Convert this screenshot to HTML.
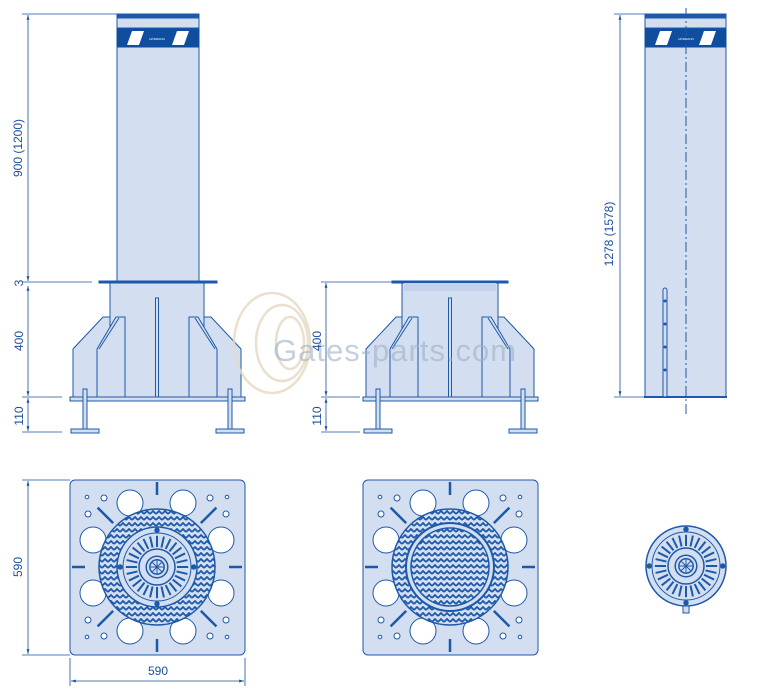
<!DOCTYPE html>
<html><head><meta charset="utf-8"><style>
html,body{margin:0;padding:0;background:#fff;width:765px;height:692px;overflow:hidden}
svg{display:block}
text{font-family:"Liberation Sans",sans-serif;fill:#1d4f9c}
</style></head><body>
<svg id="s" width="765" height="692" viewBox="0 0 765 692" xmlns="http://www.w3.org/2000/svg">
<defs>
<marker id="a" viewBox="0 0 10 10" refX="10" refY="5" markerWidth="6" markerHeight="6" orient="auto-start-reverse"><path d="M0,2 L10,5 L0,8 z" fill="#1d4f9c"/></marker>
<pattern id="zz" width="6" height="6" patternUnits="userSpaceOnUse"><rect width="6" height="6" fill="#d3dff0"/><path d="M0,4 L3,1 L6,4" stroke="#1d59aa" stroke-width="1.8" fill="none"/></pattern>
</defs>
<g id="draw" fill="#d3dff0" stroke="#1d59aa" stroke-width="1"></g>
<g fill="none" stroke="#e6d9c2" stroke-width="2.5" opacity="0.8"><ellipse cx="272" cy="343" rx="38" ry="50"/><ellipse cx="282" cy="343" rx="26" ry="38"/><ellipse cx="290" cy="343" rx="14" ry="26"/></g>
<text x="273" y="361" font-size="31" style="fill:#9fb0c6" opacity="0.6" letter-spacing="1">Gates-parts.com</text>
<g fill="none" stroke="#1d4f9c" stroke-width="0.8">
<line x1="22" y1="14" x2="117" y2="14"/><line x1="22" y1="282" x2="92" y2="282"/><line x1="22" y1="397" x2="62" y2="397"/><line x1="22" y1="432" x2="62" y2="432"/>
<line x1="28" y1="15" x2="28" y2="281" marker-start="url(#a)" marker-end="url(#a)"/>
<line x1="28" y1="286" x2="28" y2="396" marker-start="url(#a)" marker-end="url(#a)"/>
<line x1="28" y1="398" x2="28" y2="431" marker-start="url(#a)" marker-end="url(#a)"/>
<line x1="321" y1="282" x2="392" y2="282"/><line x1="321" y1="397" x2="360" y2="397"/><line x1="321" y1="432" x2="360" y2="432"/>
<line x1="326" y1="283" x2="326" y2="396" marker-start="url(#a)" marker-end="url(#a)"/>
<line x1="326" y1="398" x2="326" y2="431" marker-start="url(#a)" marker-end="url(#a)"/>
<line x1="614" y1="14" x2="645" y2="14"/><line x1="614" y1="397" x2="645" y2="397"/>
<line x1="620" y1="15" x2="620" y2="396" marker-start="url(#a)" marker-end="url(#a)"/>
<line x1="22" y1="480" x2="70" y2="480"/><line x1="22" y1="655" x2="70" y2="655"/>
<line x1="28" y1="481" x2="28" y2="654" marker-start="url(#a)" marker-end="url(#a)"/>
<line x1="70" y1="658" x2="70" y2="686"/><line x1="245" y1="658" x2="245" y2="686"/>
<line x1="71" y1="681" x2="244" y2="681" marker-start="url(#a)" marker-end="url(#a)"/>
</g>
<g font-size="12">
<text transform="translate(22,148) rotate(-90)" text-anchor="middle">900 (1200)</text>
<text transform="translate(23,283) rotate(-90)" text-anchor="middle">3</text>
<text transform="translate(23,341) rotate(-90)" text-anchor="middle">400</text>
<text transform="translate(23,416) rotate(-90)" text-anchor="middle">110</text>
<text transform="translate(321,341) rotate(-90)" text-anchor="middle">400</text>
<text transform="translate(321,416) rotate(-90)" text-anchor="middle">110</text>
<text transform="translate(613,234) rotate(-90)" text-anchor="middle">1278 (1578)</text>
<text transform="translate(22,567) rotate(-90)" text-anchor="middle">590</text>
<text x="158" y="675" text-anchor="middle" font-size="12">590</text>
</g>
<text x="157" y="40" font-size="3" text-anchor="middle" style="fill:#fff">HÖRMANN</text>
<text x="686" y="40" font-size="3" text-anchor="middle" style="fill:#fff">HÖRMANN</text>
</svg>
<script>
var g=document.getElementById('draw'),NS='http://www.w3.org/2000/svg';
function e(t,a,p){var n=document.createElementNS(NS,t);for(var k in a)n.setAttribute(k,a[k]);(p||g).appendChild(n);return n}
function R(x,y,w,h,o){o=o||{};o.x=x;o.y=y;o.width=w;o.height=h;return e('rect',o)}
function P(d,o){o=o||{};o.d=d;return e('path',o)}
function C(x,y,r,o){o=o||{};o.cx=x;o.cy=y;o.r=r;return e('circle',o)}
function L(a,b,c,d,o){o=o||{};o.x1=a;o.y1=b;o.x2=c;o.y2=d;return e('line',o)}
function band(x,w){R(x,14,w,3,{fill:'#1d59aa'});R(x,18,w,10);R(x,29,w,18,{fill:'#0f4d9e',stroke:'#0f4d9e'});
 P('M'+(x+10)+',45 L'+(x+15)+',31 L'+(x+27)+',31 L'+(x+22)+',45z',{fill:'#fff',stroke:'none'});
 P('M'+(x+w-27)+',45 L'+(x+w-22)+',31 L'+(x+w-10)+',31 L'+(x+w-15)+',45z',{fill:'#fff',stroke:'none'});}
function base(cx,hw){
 var hl=cx-hw,hr=cx+hw;
 P('M'+(cx-84)+',397 L'+(cx-84)+',349 L'+(cx-54)+',317 L'+hl+',317 L'+hl+',397z');
 P('M'+(cx+84)+',397 L'+(cx+84)+',349 L'+(cx+54)+',317 L'+hr+',317 L'+hr+',397z');
 R(hl,283,2*hw,114);
 P('M'+(cx-60)+',397 L'+(cx-60)+',349 L'+(cx-41)+',317 L'+(cx-32)+',317 L'+(cx-32)+',397',{fill:'#d3dff0'});
 L(cx-58,349,cx-38,318);
 P('M'+(cx+60)+',397 L'+(cx+60)+',349 L'+(cx+41)+',317 L'+(cx+32)+',317 L'+(cx+32)+',397',{fill:'#d3dff0'});
 L(cx+58,349,cx+38,318);
 R(cx-1.5,298,3,99);
 R(cx-87,397,175,4);
 [cx-72,cx+73].forEach(function(x){R(x-2,389,4,41);R(x-14,429,28,4);});
}
R(117,14,82,268);band(117,82);
R(99,281,118,2,{fill:'#1d59aa'});
base(157,47);
base(450,48);
R(392,281,116,2,{fill:'#1d59aa'});R(404,283,92,8,{stroke:'none',fill:'#c3d2ea'});
R(645,14,81,383);band(645,81);
L(644,397,727,397,{'stroke-width':2});
L(686,8,686,416,{'stroke-dasharray':'10,3,2,3'});
R(663,288,4,109,{rx:2});
[301,324,347,370].forEach(function(y){C(665,y,1.5,{fill:'#1d59aa',stroke:'none'})});
function plate(cx,cy){
 R(cx-87,cy-87,175,175,{rx:5});
 var s=[[-27,-64],[26,-64],[-27,64],[26,64],[-64,-27],[-64,26],[64,-27],[64,26]];
 s.forEach(function(p){C(cx+p[0],cy+p[1],13,{fill:'#fff'})});
 [[-53,-69],[53,-69],[-53,69],[53,69],[-69,-53],[69,-53],[-69,53],[69,53]].forEach(function(p){C(cx+p[0],cy+p[1],3,{fill:'#fff'})});
 [[-70,-70],[70,-70],[-70,70],[70,70]].forEach(function(p){C(cx+p[0],cy+p[1],1.8,{fill:'#fff'})});
 for(var i=0;i<8;i++){var a=i*Math.PI/4,r1=i%2?62:72,r2=i%2?84:85;
  L(cx+r1*Math.cos(a),cy+r1*Math.sin(a),cx+r2*Math.cos(a),cy+r2*Math.sin(a),{'stroke-width':2.5,stroke:'#1d59aa'});}
 C(cx,cy,58,{fill:'url(#zz)','stroke-width':1.5});
}
function cover(cx,cy,r){
 C(cx,cy,r,{fill:'#d3dff0','stroke-width':1.5});
 C(cx,cy,r*0.85,{fill:'none'});
 for(var i=0;i<28;i++){var a=i*Math.PI*2/28;L(cx+r*0.5*Math.cos(a),cy+r*0.5*Math.sin(a),cx+r*0.78*Math.cos(a),cy+r*0.78*Math.sin(a),{'stroke-width':2});}
 C(cx,cy,r*0.45,{fill:'#d3dff0','stroke-width':1.5});
 C(cx,cy,r*0.27,{fill:'#d3dff0','stroke-width':1.5});
 C(cx,cy,r*0.18,{fill:'#d3dff0','stroke-width':1.5});
 for(var i=0;i<8;i++){var a=i*Math.PI/4;L(cx,cy,cx+r*0.16*Math.cos(a),cy+r*0.16*Math.sin(a));}
 [0,1,2,3].forEach(function(i){var a=i*Math.PI/2;C(cx+r*0.92*Math.cos(a),cy+r*0.92*Math.sin(a),2.2,{fill:'#1d59aa'})});
}
plate(157,567);cover(157,567,40);
plate(450,567);
C(450,567,44,{fill:'#d3dff0','stroke-width':2});C(450,567,39,{fill:'url(#zz)','stroke-width':1.5});
cover(686,566,40);R(683,606,6,7);
</script>
</body></html>
